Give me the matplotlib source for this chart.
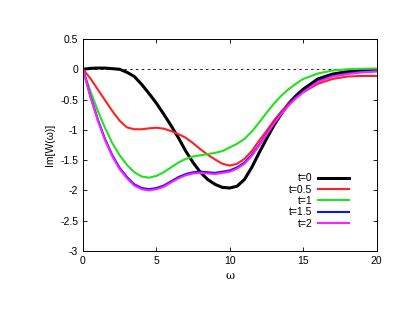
import matplotlib
matplotlib.use("Agg")
import matplotlib.pyplot as plt

plt.rcParams['font.family'] = ['Liberation Sans', 'DejaVu Sans']

w0 = [0, 0.5, 1, 1.5, 2, 2.5, 3, 3.5, 4, 4.5, 5, 5.5, 6, 6.5, 7, 7.5, 8, 8.5, 9, 9.5, 10, 10.5, 11, 11.5, 12, 12.5, 13, 13.5, 14, 14.5, 15, 16, 17, 18, 19, 20]
t0 = [0, 0.015, 0.02, 0.02, 0.01, 0.0, -0.05, -0.12, -0.25, -0.4, -0.56, -0.74, -0.93, -1.13, -1.35, -1.54, -1.7, -1.82, -1.9, -1.95, -1.96, -1.93, -1.82, -1.62, -1.38, -1.15, -0.93, -0.74, -0.57, -0.44, -0.33, -0.16, -0.08, -0.04, -0.02, -0.01]
t05 = [0, -0.15, -0.33, -0.51, -0.69, -0.85, -0.96, -0.99, -0.99, -0.975, -0.965, -0.98, -1.02, -1.07, -1.13, -1.22, -1.32, -1.41, -1.49, -1.56, -1.59, -1.56, -1.48, -1.35, -1.18, -1.02, -0.85, -0.7, -0.57, -0.47, -0.38, -0.24, -0.16, -0.12, -0.11, -0.11]
t1 = [0, -0.36, -0.68, -0.97, -1.22, -1.42, -1.58, -1.7, -1.77, -1.79, -1.76, -1.7, -1.62, -1.54, -1.48, -1.44, -1.42, -1.4, -1.38, -1.35, -1.29, -1.23, -1.15, -1.03, -0.88, -0.72, -0.57, -0.44, -0.33, -0.24, -0.16, -0.07, -0.02, 0.0, 0.008, 0.012]
t15 = [0, -0.44, -0.82, -1.15, -1.42, -1.63, -1.78, -1.9, -1.96, -1.98, -1.96, -1.92, -1.85, -1.78, -1.73, -1.7, -1.69, -1.7, -1.71, -1.69, -1.67, -1.62, -1.54, -1.41, -1.25, -1.07, -0.89, -0.73, -0.59, -0.47, -0.37, -0.2, -0.11, -0.07, -0.04, -0.03]
t2 = [0, -0.45, -0.84, -1.17, -1.44, -1.65, -1.8, -1.92, -1.98, -2.0, -1.98, -1.94, -1.87, -1.8, -1.75, -1.72, -1.71, -1.72, -1.73, -1.71, -1.69, -1.64, -1.56, -1.43, -1.26, -1.08, -0.9, -0.74, -0.6, -0.48, -0.38, -0.21, -0.12, -0.08, -0.05, -0.035]

labels = ['t=0', 't=0.5', 't=1', 't=1.5', 't=2']
colors = ['#000000', '#ff2020', '#20e020', '#1010ff', '#ff20ff']
widths = [2.2, 1.5, 1.5, 1.5, 1.5]
series = [t0, t05, t1, t15, t2]

fig = plt.figure(figsize=(4.07, 3.15), dpi=100)
ax = fig.add_axes([83/407, 1 - 251/315, (376.5 - 83)/407, (251 - 39)/315])

ax.axhline(0, color='black', lw=0.6, ls=(0, (3, 4)), zorder=1)
for s, lab, c, lw in zip(series, labels, colors, widths):
    ax.plot(w0, s, color=c, lw=lw, label=lab, zorder=2)

ax.set_xlim(0, 20)
ax.set_ylim(-3, 0.5)
ax.set_xticks([0, 5, 10, 15, 20])
ax.set_yticks([0.5, 0, -0.5, -1, -1.5, -2, -2.5, -3])
ax.set_yticklabels(['0.5', '0', '-0.5', '-1', '-1.5', '-2', '-2.5', '-3'])
ax.tick_params(direction='in', top=True, right=True, labelsize=7.5, length=3, width=0.6)
for sp in ax.spines.values():
    sp.set_linewidth(0.7)

ax.set_xlabel('ω', fontsize=8, family=['DejaVu Serif'])
ax.set_ylabel('Im[W(ω)]', fontsize=7.5)

leg = ax.legend(loc='upper right', bbox_to_anchor=(0.905, 0.366), frameon=False,
                markerfirst=False, fontsize=7.5, handlelength=2.9, labelspacing=0.13,
                handletextpad=0.6, borderaxespad=0, borderpad=0)

fig.savefig('out.png', dpi=100)
